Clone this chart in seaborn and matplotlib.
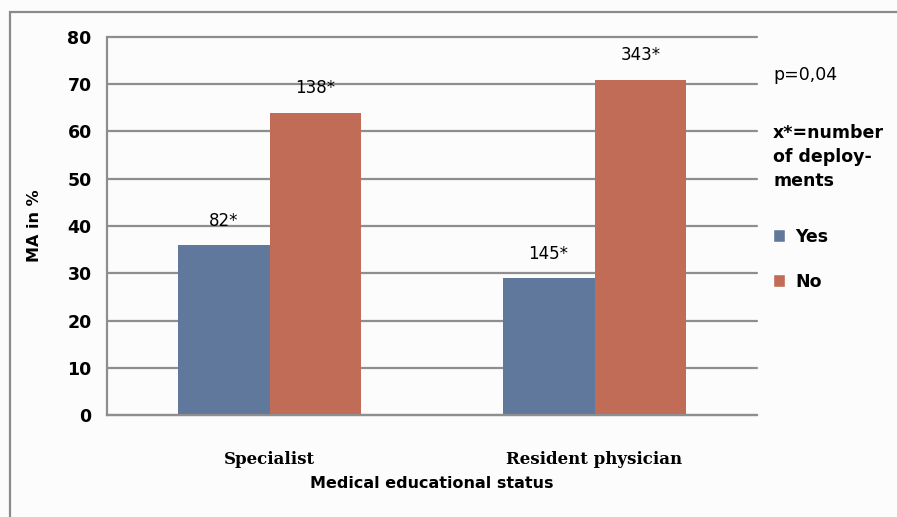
import pandas as pd
import numpy as np
import matplotlib
matplotlib.use("Agg")
import matplotlib.pyplot as plt
import seaborn as sns
from matplotlib.patches import Rectangle, Patch

# Data
status = ["Specialist", "Resident physician"]
answers = ["Yes", "No"]
yes_values = [36, 29]
no_values = [64, 71]
yes_counts = ["82*", "145*"]
no_counts = ["138*", "343*"]

data = pd.DataFrame({
    "status": status * 2,
    "answer": ["Yes"] * 2 + ["No"] * 2,
    "value": yes_values + no_values,
    "label": yes_counts + no_counts,
})

colors = {"Yes": "#60789b", "No": "#c06c56"}
grid_col = "#8e8e8e"

sns.set_style("white")
plt.rcParams['font.family'] = ['DejaVu Sans']
plt.rcParams['text.color'] = 'black'
plt.rcParams['axes.labelcolor'] = 'black'
plt.rcParams['xtick.labelcolor'] = 'black'
plt.rcParams['ytick.labelcolor'] = 'black'

fig = plt.figure(figsize=(8.97, 5.17), dpi=100)
fig.patch.set_facecolor("#fcfcfd")
ax = fig.add_axes([107 / 897, 1 - 415 / 517, 650 / 897, 378 / 517])
ax.set_facecolor("#fcfcfd")

sns.barplot(data=data, x="status", y="value", hue="answer", hue_order=answers,
            palette=colors, width=0.566, saturation=1, ax=ax, legend=False,
            edgecolor="none")

ax.set_xlim(-0.5, 1.5)
ax.set_ylim(0, 80)
ax.set_yticks(np.arange(0, 81, 10))
ax.yaxis.grid(True, color=grid_col, linewidth=1.6)
for gl in ax.get_ygridlines():
    gl.set_clip_on(False)
ax.set_axisbelow(True)

for s in ["top", "right"]:
    ax.spines[s].set_visible(False)
for s in ["left", "bottom"]:
    ax.spines[s].set_color(grid_col)
    ax.spines[s].set_linewidth(1.6)

ax.tick_params(axis="y", length=5, width=1.6, color=grid_col, pad=6,
               labelsize=12.5)
for t in ax.get_yticklabels():
    t.set_fontweight("bold")
ax.set_xticks([0, 1])
ax.set_xticklabels(status, fontfamily="DejaVu Serif", fontweight="bold",
                   fontsize=12)
ax.tick_params(axis="x", length=0, pad=26)
ax.set_xticks([-0.5, 0.5, 1.5], minor=True)
ax.tick_params(axis="x", which="minor", length=6, width=1.6, color=grid_col)

ax.set_xlabel("Medical educational status", fontweight="bold", fontsize=11.5,
              labelpad=6)
ax.set_ylabel("MA in %", fontweight="bold", fontsize=11.5, labelpad=18)

# count labels above the bars
for i, row in data.iterrows():
    xi = status.index(row["status"]) + (-0.1415 if row["answer"] == "Yes" else 0.1415)
    ax.text(xi, row["value"] + 3.2, row["label"], ha="center", va="bottom",
            fontsize=12)

# right-hand notes
fig.text(773 / 897, 1 - 75 / 517, "p=0,04", fontsize=12.5, va="center")
fig.text(773 / 897, 1 - 157 / 517, "x*=number\nof deploy-\nments",
         fontsize=12.5, fontweight="bold", va="center", linespacing=1.45)
handles = [Patch(facecolor=colors[a], label=a) for a in answers]
leg = fig.legend(handles=handles, loc="upper left",
                 bbox_to_anchor=(757 / 897, 1 - 212 / 517), frameon=False,
                 handlelength=0.7, handleheight=0.7, handletextpad=0.6,
                 labelspacing=1.55, prop={"weight": "bold", "size": 12.5})

# outer chart frame
fig.patches.append(Rectangle((10 / 897, -0.1), 1.2, 1.1 - 12 / 517,
                             transform=fig.transFigure, fill=False,
                             edgecolor="#8a8a8a", linewidth=1.6))

fig.savefig("out.png", dpi=100)
